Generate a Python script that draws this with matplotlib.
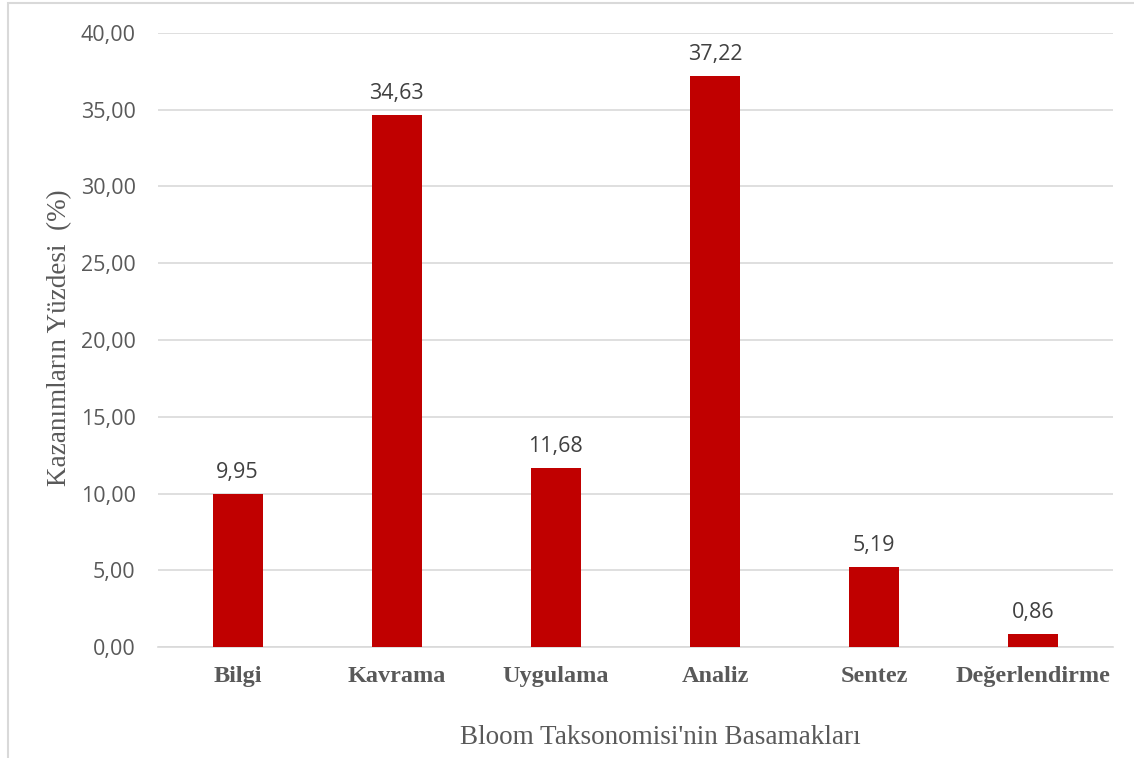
import matplotlib.pyplot as plt
from matplotlib.patches import Rectangle
from matplotlib.ticker import FuncFormatter

categories = ["Bilgi", "Kavrama", "Uygulama", "Analiz", "Sentez", "Değerlendirme"]
values = [9.95, 34.63, 11.68, 37.22, 5.19, 0.86]
y_ticks = [0, 5, 10, 15, 20, 25, 30, 35, 40]


def tr_fmt(v, pos=None):
    return f"{v:.2f}".replace(".", ",")


def main():
    fig = plt.figure(figsize=(11.34, 7.58), dpi=100)
    ax = fig.add_axes([0.1393, 0.1464, 0.8422, 0.8101])

    # outer chart border (only left/top visible, rest cropped)
    fig.patches.append(Rectangle((8 / 1134, -0.1), 1.2, 1 - 3 / 758 + 0.1,
                                 transform=fig.transFigure, fill=False,
                                 edgecolor="#D9D9D9", linewidth=1.5))

    x = range(len(categories))
    bars = ax.bar(x, values, width=0.314, color="#C00000", zorder=3)

    for b, v in zip(bars, values):
        ax.annotate(tr_fmt(v), (b.get_x() + b.get_width() / 2, v),
                    xytext=(0, 8), textcoords="offset points",
                    ha="center", va="bottom", fontsize=15.5,
                    family="Open Sans", color="#404040")

    ax.set_xlim(-0.5, len(categories) - 0.5)
    ax.set_ylim(0, 40)
    ax.set_yticks(y_ticks)
    ax.yaxis.set_major_formatter(FuncFormatter(tr_fmt))
    ax.grid(axis="y", color="#D9D9D9", linewidth=1.2, zorder=0)

    ax.set_xticks(list(x))
    ax.set_xticklabels(categories, family="Liberation Serif", fontweight="bold",
                       fontsize=17.5, color="#595959")
    for lbl in ax.get_yticklabels():
        lbl.set_family("Open Sans")
        lbl.set_fontsize(15.5)
        lbl.set_color("#595959")
    ax.tick_params(axis="both", length=0)
    ax.tick_params(axis="x", pad=14)
    ax.tick_params(axis="y", pad=16)

    for s in ["left", "right", "top"]:
        ax.spines[s].set_visible(False)
    ax.spines["bottom"].set_color("#D9D9D9")
    ax.spines["bottom"].set_linewidth(1.2)

    ax.set_xlabel("Bloom Taksonomisi'nin Basamakları", family="Liberation Serif",
                  fontsize=19.5, color="#595959", va="center")
    ax.xaxis.set_label_coords(660 / 1134, 1 - 738 / 758, transform=fig.transFigure)
    ax.set_ylabel("Kazanımların Yüzdesi  (%)", family="Liberation Serif",
                  fontsize=19.5, color="#595959", va="center")
    ax.yaxis.set_label_coords(60 / 1134, 1 - 338 / 758, transform=fig.transFigure)

    fig.savefig("out.png", dpi=100)
    plt.close(fig)


if __name__ == "__main__":
    main()
